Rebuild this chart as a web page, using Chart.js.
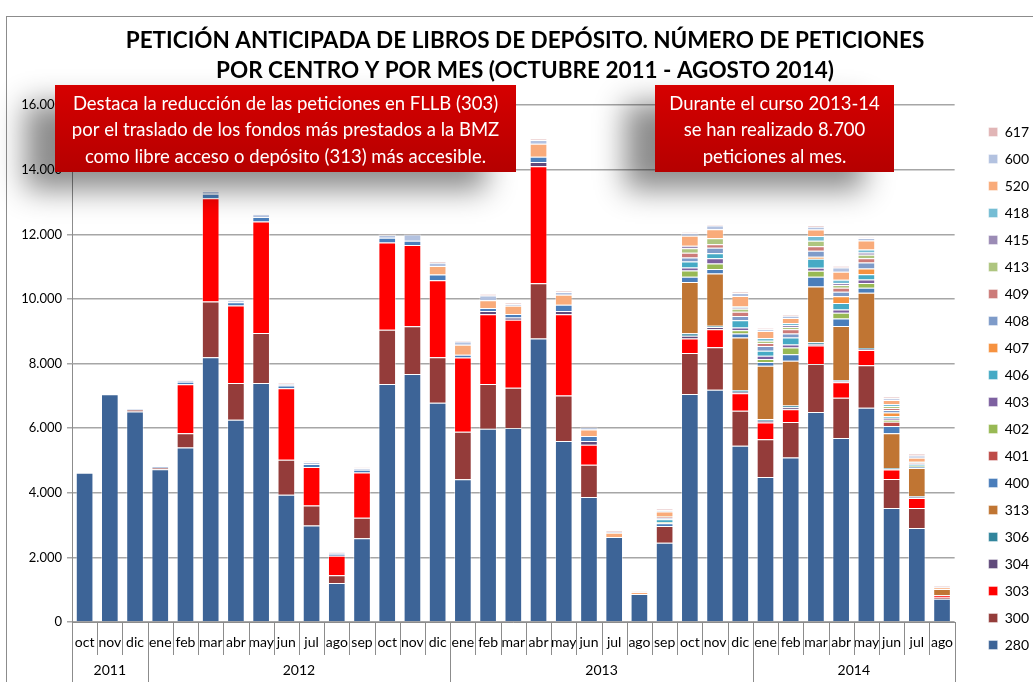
<!DOCTYPE html>
<html>
<head>
<meta charset="utf-8">
<script src="https://cdn.jsdelivr.net/npm/chart.js@4.4.1/dist/chart.umd.min.js"></script>
<style>
body { margin: 0; background: #fff; }
canvas { display: block; }
</style>
</head>
<body>
<canvas id="peticiones" width="1033" height="682"></canvas>
<script>
var months = ["oct", "nov", "dic", "ene", "feb", "mar", "abr", "may", "jun", "jul", "ago", "sep",
    "oct", "nov", "dic", "ene", "feb", "mar", "abr", "may", "jun", "jul", "ago", "sep",
    "oct", "nov", "dic", "ene", "feb", "mar", "abr", "may", "jun", "jul", "ago"];
var years = ["2011", "2011", "2011", "2012", "2012", "2012", "2012", "2012", "2012", "2012", "2012", "2012",
    "2012", "2012", "2012", "2013", "2013", "2013", "2013", "2013", "2013", "2013", "2013", "2013",
    "2013", "2013", "2013", "2014", "2014", "2014", "2014", "2014", "2014", "2014", "2014"];

var s280 = [4620, 7050, 6520, 4730, 5400, 8200, 6260, 7400, 3940, 2990, 1210, 2590, 7370, 7680, 6790, 4420, 5980, 6010, 8780, 5600, 3870, 2630, 870, 2450, 7060, 7190, 5460, 4490, 5090, 6500, 5700, 6630, 3530, 2910, 720];
var s300 = [0, 0, 50, 40, 440, 1720, 1140, 1550, 1080, 620, 240, 640, 1680, 1480, 1410, 1470, 1390, 1240, 1710, 1410, 1000, 0, 0, 520, 1270, 1320, 1080, 1170, 1100, 1490, 1240, 1320, 900, 620, 40];
var s303 = [0, 0, 0, 0, 1520, 3200, 2400, 3450, 2220, 1190, 600, 1400, 2700, 2510, 2380, 2300, 2160, 2110, 3620, 2520, 620, 0, 0, 0, 450, 550, 540, 520, 400, 570, 480, 470, 290, 310, 70];
var s304 = [0, 0, 0, 0, 0, 0, 0, 0, 0, 0, 0, 0, 0, 0, 0, 0, 100, 70, 130, 100, 110, 0, 0, 0, 80, 70, 50, 50, 60, 40, 30, 30, 20, 25, 0];
var s306 = [0, 0, 0, 0, 0, 0, 0, 0, 0, 0, 0, 0, 0, 0, 0, 0, 0, 0, 0, 0, 0, 0, 0, 0, 80, 40, 55, 55, 55, 60, 45, 35, 20, 25, 0];
var s313 = [0, 0, 0, 0, 0, 0, 0, 0, 0, 0, 0, 0, 0, 0, 0, 0, 0, 0, 0, 0, 0, 0, 0, 0, 1590, 1620, 1620, 1650, 1380, 1730, 1670, 1710, 1080, 875, 195];
var s400 = [0, 0, 0, 20, 80, 140, 100, 140, 80, 90, 60, 80, 150, 130, 175, 85, 95, 105, 165, 195, 155, 0, 0, 90, 155, 135, 130, 115, 205, 300, 235, 155, 225, 40, 0];
var s401 = [0, 0, 0, 0, 0, 0, 0, 0, 0, 0, 0, 0, 0, 0, 0, 0, 0, 0, 0, 0, 0, 0, 0, 0, 0, 0, 0, 0, 0, 0, 0, 0, 135, 0, 0];
var s402 = [0, 0, 0, 0, 0, 0, 0, 0, 0, 0, 0, 0, 0, 0, 0, 0, 0, 0, 0, 0, 0, 0, 0, 30, 195, 175, 100, 95, 205, 185, 175, 145, 60, 30, 0];
var s403 = [0, 0, 0, 0, 0, 0, 0, 0, 0, 0, 0, 0, 0, 0, 0, 0, 0, 0, 0, 0, 0, 0, 0, 0, 95, 165, 80, 100, 100, 95, 100, 110, 60, 0, 0];
var s406 = [0, 0, 0, 0, 0, 0, 0, 0, 0, 0, 0, 0, 0, 0, 0, 0, 0, 0, 0, 0, 0, 0, 0, 90, 185, 155, 230, 155, 215, 280, 205, 165, 60, 40, 0];
var s407 = [0, 0, 0, 0, 0, 0, 0, 0, 0, 0, 0, 0, 0, 0, 0, 0, 0, 0, 0, 0, 0, 0, 0, 0, 0, 0, 0, 0, 0, 60, 205, 175, 105, 0, 0];
var s408 = [0, 0, 0, 0, 0, 0, 0, 0, 0, 0, 0, 0, 0, 0, 0, 0, 0, 0, 0, 0, 0, 0, 0, 40, 125, 165, 130, 145, 125, 185, 140, 185, 80, 30, 0];
var s409 = [0, 0, 0, 0, 0, 0, 0, 0, 0, 0, 0, 0, 0, 0, 0, 0, 0, 0, 0, 0, 0, 0, 0, 30, 145, 110, 130, 90, 125, 135, 125, 135, 60, 30, 0];
var s413 = [0, 0, 0, 0, 0, 0, 0, 0, 0, 0, 0, 0, 0, 0, 0, 0, 0, 0, 0, 0, 0, 0, 0, 20, 145, 185, 90, 75, 75, 175, 85, 105, 60, 0, 0];
var s415 = [0, 0, 0, 0, 0, 0, 0, 0, 0, 0, 0, 0, 0, 0, 0, 0, 0, 0, 0, 0, 0, 0, 0, 0, 70, 0, 40, 0, 60, 0, 60, 70, 0, 0, 0];
var s418 = [0, 0, 0, 0, 0, 0, 0, 0, 0, 0, 0, 0, 0, 0, 0, 0, 0, 0, 0, 0, 0, 0, 0, 0, 0, 0, 30, 85, 60, 145, 100, 95, 60, 27, 0];
var s520 = [0, 0, 0, 0, 0, 0, 0, 0, 0, 0, 0, 0, 0, 0, 270, 310, 240, 255, 400, 310, 205, 135, 50, 150, 310, 280, 330, 215, 155, 205, 245, 275, 125, 125, 40];
var s600 = [0, 0, 30, 20, 40, 80, 55, 80, 50, 60, 35, 50, 80, 195, 100, 100, 140, 50, 115, 85, 70, 20, 15, 40, 80, 115, 90, 50, 70, 85, 135, 75, 60, 70, 20];
var s617 = [0, 0, 0, 0, 15, 20, 20, 25, 25, 25, 20, 25, 25, 20, 35, 30, 50, 40, 30, 30, 25, 30, 20, 40, 30, 30, 40, 40, 40, 40, 50, 20, 40, 60, 22];

var centros = ["280", "300", "303", "304", "306", "313", "400", "401", "402", "403", "406", "407", "408", "409", "413", "415", "418", "520", "600", "617"];
var valores = [s280, s300, s303, s304, s306, s313, s400, s401, s402, s403, s406, s407, s408, s409, s413, s415, s418, s520, s600, s617];
var colores = ["#3d6497", "#943c3a", "#ff0000", "#604a7b", "#31859c", "#c07533", "#4a7ebb", "#be4b48", "#98b954", "#7d60a0",
    "#46aac5", "#f69240", "#7e9bc9", "#cc7b79", "#aec57f", "#9b8bb5", "#75bdd4", "#f9ab7a", "#b3c2e0", "#e1b5b6"];

var titulo = ["PETICIÓN ANTICIPADA DE LIBROS DE DEPÓSITO. NÚMERO DE PETICIONES",
    "POR CENTRO Y POR MES (OCTUBRE 2011 - AGOSTO 2014)"];
var nota1 = ["Destaca la reducción de las peticiones en FLLB (303)",
    "por el traslado de los fondos más prestados a la BMZ",
    "como libre acceso o depósito (313) más accesible."];
var nota2 = ["Durante el curso 2013-14", "se han realizado 8.700", "peticiones al mes."];

function miles(v) {
    return String(v).replace(/\B(?=(\d{3})+(?!\d))/g, ".");
}

function drawNote(c, x, y, w, h, lines) {
    c.save();
    c.shadowColor = "rgba(0, 0, 0, 0.45)";
    c.shadowBlur = 28;
    c.shadowOffsetX = -30;
    c.shadowOffsetY = 18;
    var g = c.createLinearGradient(0, y, 0, y + h);
    g.addColorStop(0, "#d60000");
    g.addColorStop(1, "#b50000");
    c.fillStyle = g;
    c.fillRect(x, y, w, h);
    c.restore();
    c.save();
    c.fillStyle = "#ffffff";
    c.font = "18.5px Lato";
    c.textAlign = "center";
    c.textBaseline = "middle";
    for (var i = 0; i < lines.length; i++) {
        c.fillText(lines[i], x + w / 2, y + 19 + i * 26.5);
    }
    c.restore();
}

var extras = {
    id: "extras",
    beforeDraw: function(chart) {
        var c = chart.ctx;
        c.save();
        c.fillStyle = "#fff";
        c.fillRect(0, 0, chart.width, chart.height);
        c.strokeStyle = "#8c8c8c";
        c.lineWidth = 1;
        c.strokeRect(6.5, 16.5, chart.width, chart.height);
        c.restore();
    },
    afterDraw: function(chart) {
        var c = chart.ctx, x = chart.scales.x, area = chart.chartArea;
        c.save();

        // separadores de meses y años
        var half = (x.getPixelForValue(1) - x.getPixelForValue(0)) / 2;
        var edges = [];
        for (var i = 0; i <= months.length; i++) {
            edges.push(i < months.length ? x.getPixelForValue(i) - half : x.getPixelForValue(i - 1) + half);
        }
        c.strokeStyle = "#8c8c8c";
        c.lineWidth = 1;
        c.beginPath();
        for (var i = 0; i < edges.length; i++) {
            var px = Math.round(edges[i]) + 0.5;
            var nuevo = i === 0 || i === months.length || years[i] !== years[i - 1];
            c.moveTo(px, area.bottom);
            c.lineTo(px, nuevo ? chart.height : area.bottom + 33);
        }
        c.stroke();

        c.fillStyle = "#000";
        c.font = "14px Lato";
        c.textAlign = "center";
        c.textBaseline = "middle";
        var start = 0;
        for (var i = 1; i <= years.length; i++) {
            if (i === years.length || years[i] !== years[start]) {
                c.fillText(years[start], (edges[start] + edges[i]) / 2, 670);
                start = i;
            }
        }

        drawNote(c, 55, 85, 461, 87, nota1);
        drawNote(c, 655, 85, 239, 87, nota2);
        c.restore();
    }
};

var datasets = centros.map(function(nombre, i) {
    return {
        label: nombre,
        data: valores[i],
        backgroundColor: colores[i],
        borderColor: "rgba(255, 255, 255, 0.4)",
        borderWidth: 1,
        barPercentage: 0.7,
        categoryPercentage: 1
    };
});

var ctx = document.getElementById("peticiones").getContext("2d");
var chart = new Chart(ctx, {
    type: "bar",
    data: { labels: months, datasets: datasets },
    plugins: [extras],
    options: {
        responsive: false,
        animation: false,
        layout: { padding: { top: 0, right: -6, bottom: 17, left: 11 } },
        plugins: {
            title: {
                display: true,
                text: titulo,
                color: "#000",
                font: { family: "Lato", size: 22.5, weight: "bold", lineHeight: 1.36 },
                padding: { top: 25, bottom: 19 }
            },
            legend: {
                position: "right",
                align: "end",
                reverse: true,
                labels: {
                    boxWidth: 9,
                    boxHeight: 9,
                    padding: 13,
                    color: "#000",
                    font: { family: "Lato", size: 14 }
                }
            },
            tooltip: { enabled: false }
        },
        scales: {
            x: {
                stacked: true,
                grid: { display: false },
                border: { color: "#8c8c8c" },
                ticks: { color: "#000", font: { family: "Lato", size: 14 }, padding: 4, maxRotation: 0, autoSkip: false },
                afterFit: function(s) { s.height = 43; }
            },
            y: {
                stacked: true,
                min: 0,
                max: 16000,
                grid: { color: "#a6a6a6", lineWidth: 1.5, tickLength: 5 },
                border: { color: "#8c8c8c" },
                ticks: {
                    stepSize: 2000,
                    color: "#000",
                    padding: 5,
                    font: { family: "Lato", size: 13 },
                    callback: function(v) { return miles(v); }
                },
                afterFit: function(s) { s.width = 61; }
            },
            hueco: {
                position: "right",
                grid: { display: false },
                border: { display: false },
                ticks: { display: false },
                afterFit: function(s) { s.width = 21; }
            }
        }
    }
});
</script>
</body>
</html>
